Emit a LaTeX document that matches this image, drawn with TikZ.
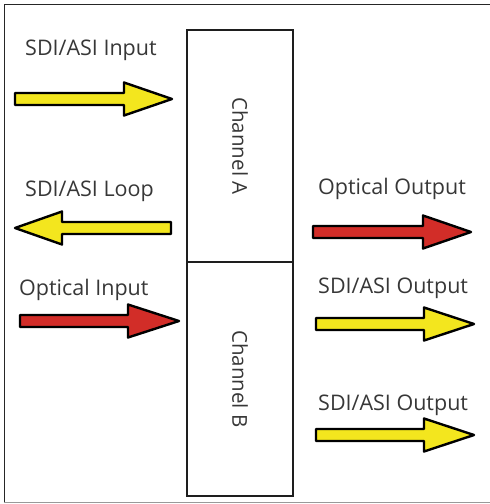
\documentclass[tikz,border=0pt]{standalone}
\usepackage{fontspec}
\setmainfont{Open Sans}
\definecolor{arrYellow}{RGB}{243,230,30}
\definecolor{arrRed}{RGB}{210,45,40}
\definecolor{txtGray}{RGB}{55,55,55}
\definecolor{boxLine}{RGB}{30,30,30}
\begin{document}
\begin{tikzpicture}[x=1pt,y=-1pt,
  lbl/.style={anchor=base west,inner sep=0pt,text=txtGray,font=\fontsize{21.5}{24}\selectfont},
  chlbl/.style={rotate=-90,inner sep=0pt,text=txtGray,font=\fontsize{20.5}{24}\selectfont},
  blk/.style={draw=black,line width=2.4pt,line join=round},
  chbox/.style={draw=boxLine,line width=2.5pt}]
\useasboundingbox (0,0) rectangle (490,504);
% outer frame
\draw[line width=1pt,black!85] (4,502) -- (4,4) -- (492,4);
\draw[line width=1pt,black!40] (4,502) -- (492,502);
% channel boxes
\coordinate (aTL) at (187,30);
\coordinate (aBR) at (293,262);
\coordinate (bBR) at (293,496);
\draw[chbox] (aTL) rectangle (bBR);
\draw[chbox] (187,262) -- (aBR);
\node[chlbl] (chA) at (240,146) {Channel A};
\node[chlbl] (chB) at (240,379) {Channel B};
% block arrow: tail x, base x, tip x, y, fill
\newcommand\rblk[5]{\filldraw[blk,fill=#5] (#1,#4-6) -- (#2,#4-6) -- (#2,#4-16.5) -- (#3,#4) -- (#2,#4+16.5) -- (#2,#4+6) -- (#1,#4+6) -- cycle;}
% SDI/ASI Input
\node[lbl] (tIn) at (25,55) {SDI/ASI Input};
\rblk{15}{124}{172}{99}{arrYellow}
% SDI/ASI Loop (left)
\node[lbl] (tLoop) at (25,196) {SDI/ASI Loop};
\rblk{171}{62}{15}{228}{arrYellow}
% Optical Output
\node[lbl] (tOO) at (318,194) {Optical Output};
\rblk{313}{423}{471}{232}{arrRed}
% Optical Input
\node[lbl] (tOI) at (19,295) {Optical Input};
\rblk{20}{128}{179}{321}{arrRed}
% SDI/ASI Output 1
\node[lbl] (tO1) at (318,293) {SDI/ASI Output};
\rblk{316}{424}{474}{324}{arrYellow}
% SDI/ASI Output 2
\node[lbl] (tO2) at (318,410) {SDI/ASI Output};
\rblk{316}{424}{474}{435}{arrYellow}
\end{tikzpicture}
\end{document}
